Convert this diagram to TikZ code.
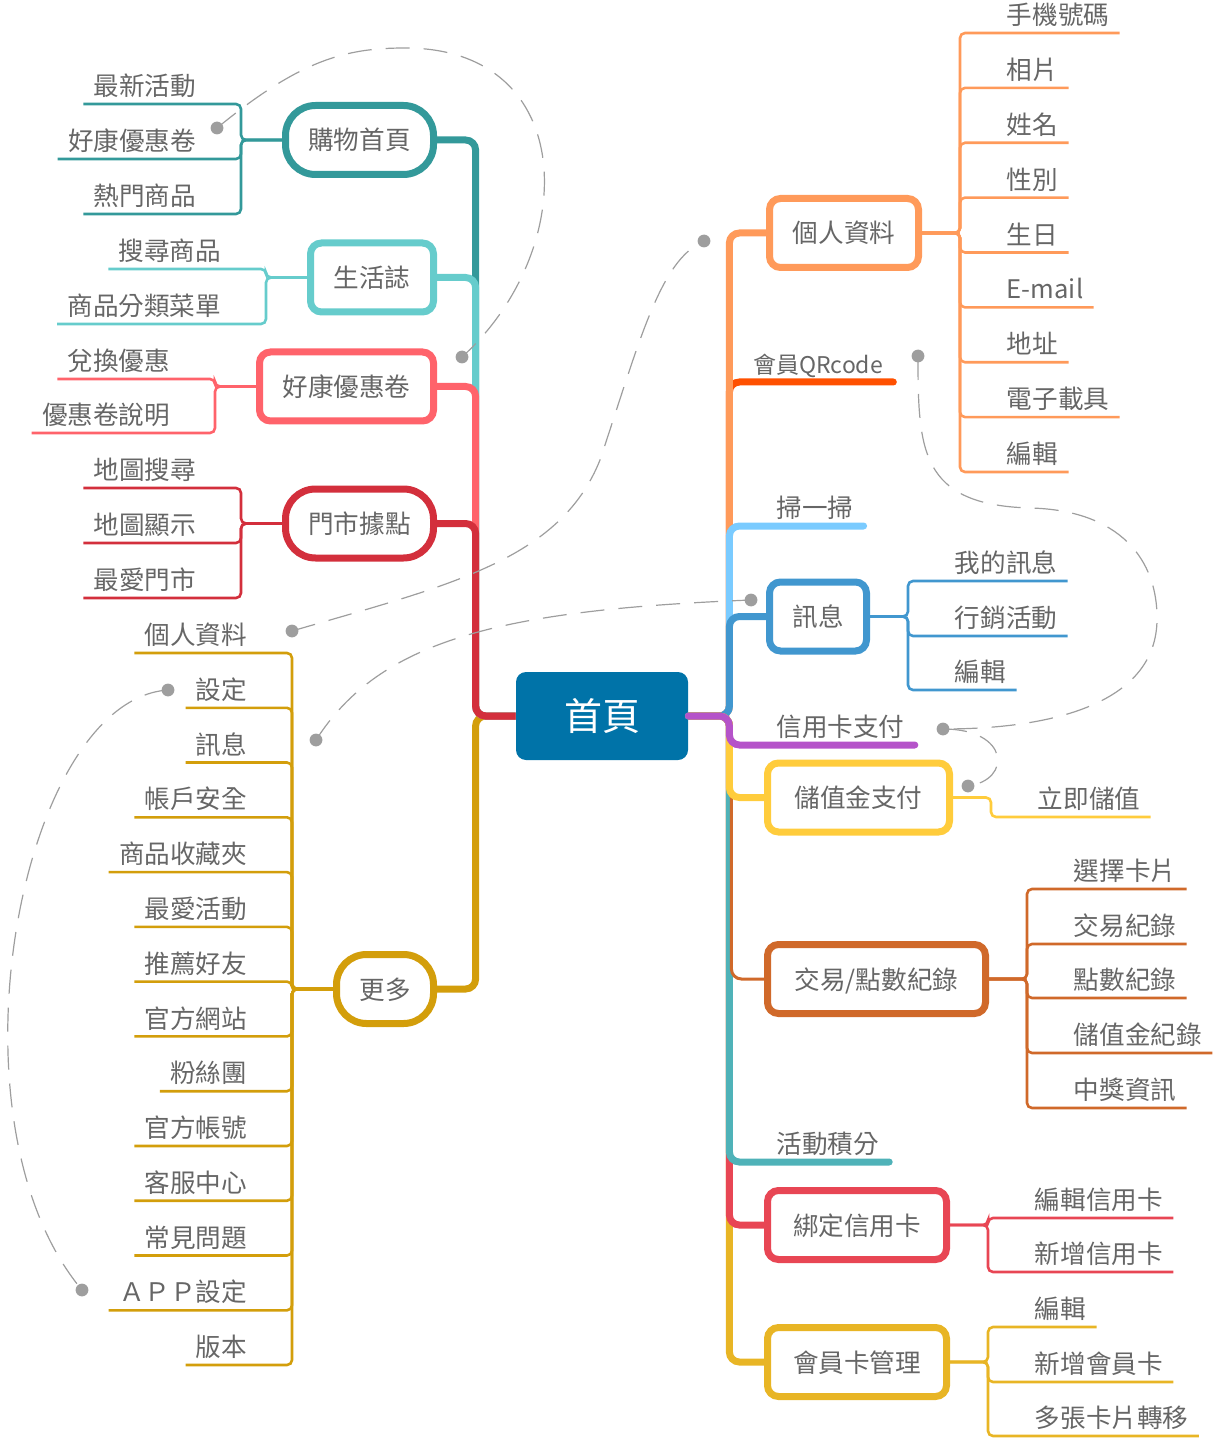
\documentclass[tikz,border=0pt]{standalone}
\usepackage{fontspec}
\usepackage{xcolor}
\setmainfont{Noto Sans CJK TC}
\definecolor{txt}{HTML}{666666}
\definecolor{relgray}{HTML}{9E9E9E}
\definecolor{homeblue}{HTML}{0073A8}
\definecolor{cGouwu}{HTML}{33999A}
\definecolor{cShz}{HTML}{66CCCC}
\definecolor{cHk}{HTML}{FF636B}
\definecolor{cMd}{HTML}{D32F3C}
\definecolor{cMore}{HTML}{D39E0B}
\definecolor{cPinfo}{HTML}{FF9A5A}
\definecolor{cQr}{HTML}{FF5000}
\definecolor{cScan}{HTML}{7ACBFF}
\definecolor{cMsg}{HTML}{4197CF}
\definecolor{cCredit}{HTML}{B553C9}
\definecolor{cStored}{HTML}{FFCC3C}
\definecolor{cTrans}{HTML}{D0692A}
\definecolor{cPoints}{HTML}{4FB2B8}
\definecolor{cBind}{HTML}{E84654}
\definecolor{cCard}{HTML}{E8B525}
\newcommand\leaffont{\fontsize{12.8pt}{15pt}\selectfont}
\tikzset{
  topic/.style={draw=#1, line width=3.5pt, fill=white, rounded corners=5.5pt, text=txt, font=\leaffont,
    minimum height=34.5pt, inner sep=0pt, text height=11.5pt, text depth=1.5pt},
  pill/.style={topic=#1, rounded corners=15pt},
  leaf/.style={text=txt, font=\leaffont, inner xsep=5pt, inner ysep=2.5pt, text height=11.5pt, text depth=1.5pt},
  leafL/.style={leaf, anchor=south east},
  leafR/.style={leaf, anchor=south west},
  branch/.style={draw=#1, line width=3.5pt, rounded corners=5pt},
  bar/.style={draw=#1, line width=3.5pt, rounded corners=5pt, line cap=round},
  twig/.style={draw=#1, line width=1.3pt, rounded corners=2.5pt},
  rel/.style={draw=relgray, line width=0.6pt, dash pattern=on 12pt off 7pt},
  reldot/.style={fill=relgray}
}
\begin{document}
\begin{tikzpicture}[x=0.5pt,y=-0.5pt]
  \useasboundingbox (0,0) rectangle (1212,1438);

  %%% CENTRE %%%
  \node[fill=homeblue, text=white, font=\fontsize{19pt}{22pt}\selectfont, rounded corners=5pt,
    minimum width=86pt, minimum height=44pt, inner sep=0pt] (home) at (602,716) {首頁};

  %%% LEFT TOPICS %%%
  \node[pill=cGouwu, minimum width=74pt] (gouwu) at (359.5,140) {購物首頁};
  \node[topic=cShz, minimum width=61.5pt] (shz) at (372,277.5) {生活誌};
  \node[topic=cHk, minimum width=87pt] (hk) at (346.5,386.5) {好康優惠卷};
  \node[pill=cMd, minimum width=74pt] (md) at (359.5,523.5) {門市據點};
  \node[pill=cMore, minimum width=48.5pt] (more) at (385,989) {更多};

  %%% RIGHT TOPICS %%%
  \node[topic=cPinfo, minimum width=74.5pt] (pinfo) at (844,233) {個人資料};
  \node[leafR, font=\fontsize{11.5pt}{14pt}\selectfont] (qr) at (743,382) {會員QRcode};
  \node[leafR] (scan) at (766,526) {掃一掃};
  \node[topic=cMsg, minimum width=48.5pt] (msg) at (818,616.5) {訊息};
  \node[leafR] (credit) at (766,745) {信用卡支付};
  \node[topic=cStored, minimum width=91pt] (stored) at (858.5,797.5) {儲值金支付};
  \node[topic=cTrans, minimum width=109pt] (trans) at (876.5,979) {交易/點數紀錄};
  \node[leafR] (points) at (766,1162) {活動積分};
  \node[topic=cBind, minimum width=89.5pt] (bind) at (857,1225) {綁定信用卡};
  \node[topic=cCard, minimum width=89.5pt] (card) at (857,1362) {會員卡管理};

  %%% BRANCHES LEFT %%%
  \draw[branch=cMore] (home.west) -- ++(-40,0) |- (more.east);
  \draw[branch=cGouwu] (home.west) -- ++(-40,0) |- (gouwu.east);
  \draw[branch=cShz] (home.west) -- ++(-40,0) |- (shz.east);
  \draw[branch=cHk] (home.west) -- ++(-40,0) |- (hk.east);
  \draw[branch=cMd] (home.west) -- ++(-40,0) |- (md.east);

  %%% BRANCHES RIGHT %%%
  \draw[bar=cQr] (home.east) -- ++(41,0) |- (qr.south east);
  \draw[branch=cPinfo] (home.east) -- ++(41,0) |- (pinfo.west);
  \draw[bar=cScan] (home.east) -- ++(41,0) |- (scan.south east);
  \draw[branch=cMsg] (home.east) -- ++(41,0) |- (msg.west);
  \draw[branch=cCard] (home.east) -- ++(41,0) |- (card.west);
  \draw[branch=cBind] (home.east) -- ++(41,0) |- (bind.west);
  \draw[bar=cPoints] (home.east) -- ++(41,0) |- (points.south east);
  \draw[draw=cTrans, line width=1.5pt, rounded corners=5pt] (home.east) -- ++(43,0) |- (trans.west);
  \draw[branch=cStored] (home.east) -- ++(41,0) |- (stored.west);
  \draw[bar=cCredit] (home.east) -- ++(41,0) |- (credit.south east);

  %%% LEAVES: 購物首頁 %%%
  \node[leafL] (g1) at (206.5,104) {最新活動};
  \node[leafL] (g2) at (206.5,159) {好康優惠卷};
  \node[leafL] (g3) at (206.5,214) {熱門商品};
  \draw[twig=cGouwu] (gouwu.west) -- ++(-41,0) |- (g1.south west);
  \draw[twig=cGouwu] (gouwu.west) -- ++(-41,0) |- (g2.south west);
  \draw[twig=cGouwu] (gouwu.west) -- ++(-41,0) |- (g3.south west);

  %%% LEAVES: 生活誌 %%%
  \node[leafL] (s1) at (231.5,269) {搜尋商品};
  \node[leafL] (s2) at (231.5,324) {商品分類菜單};
  \draw[twig=cShz] (shz.west) -- ++(-41,0) |- (s1.south west);
  \draw[twig=cShz] (shz.west) -- ++(-41,0) |- (s2.south west);

  %%% LEAVES: 好康優惠卷 %%%
  \node[leafL] (h1) at (180.5,379) {兌換優惠};
  \node[leafL] (h2) at (180.5,433) {優惠卷說明};
  \draw[twig=cHk] (hk.west) -- ++(-41,0) |- (h1.south west);
  \draw[twig=cHk] (hk.west) -- ++(-41,0) |- (h2.south west);

  %%% LEAVES: 門市據點 %%%
  \node[leafL] (m1) at (206.5,488) {地圖搜尋};
  \node[leafL] (m2) at (206.5,543) {地圖顯示};
  \node[leafL] (m3) at (206.5,598) {最愛門市};
  \draw[twig=cMd] (md.west) -- ++(-41,0) |- (m1.south west);
  \draw[twig=cMd] (md.west) -- ++(-41,0) |- (m2.south west);
  \draw[twig=cMd] (md.west) -- ++(-41,0) |- (m3.south west);

  %%% LEAVES: 更多 %%%
  \node[leafL] (o1) at (257.5,653) {個人資料};
  \node[leafL] (o2) at (257.5,707.8) {設定};
  \node[leafL] (o3) at (257.5,762.5) {訊息};
  \node[leafL] (o4) at (257.5,817.3) {帳戶安全};
  \node[leafL] (o5) at (257.5,872.1) {商品收藏夾};
  \node[leafL] (o6) at (257.5,926.9) {最愛活動};
  \node[leafL] (o7) at (257.5,981.6) {推薦好友};
  \node[leafL] (o8) at (257.5,1036.4) {官方網站};
  \node[leafL] (o9) at (257.5,1091.2) {粉絲團};
  \node[leafL] (o10) at (257.5,1146) {官方帳號};
  \node[leafL] (o11) at (257.5,1200.7) {客服中心};
  \node[leafL] (o12) at (257.5,1255.5) {常見問題};
  \node[leafL] (o13) at (257.5,1310.3) {ＡＰＰ設定};
  \node[leafL] (o14) at (257.5,1365) {版本};
  \draw[twig=cMore] (more.west) -- ++(-41,0) |- (o1.south west);
  \draw[twig=cMore] (more.west) -- ++(-41,0) |- (o2.south west);
  \draw[twig=cMore] (more.west) -- ++(-41,0) |- (o3.south west);
  \draw[twig=cMore] (more.west) -- ++(-41,0) |- (o4.south west);
  \draw[twig=cMore] (more.west) -- ++(-41,0) |- (o5.south west);
  \draw[twig=cMore] (more.west) -- ++(-41,0) |- (o6.south west);
  \draw[twig=cMore] (more.west) -- ++(-41,0) |- (o7.south west);
  \draw[twig=cMore] (more.west) -- ++(-41,0) |- (o8.south west);
  \draw[twig=cMore] (more.west) -- ++(-41,0) |- (o9.south west);
  \draw[twig=cMore] (more.west) -- ++(-41,0) |- (o10.south west);
  \draw[twig=cMore] (more.west) -- ++(-41,0) |- (o11.south west);
  \draw[twig=cMore] (more.west) -- ++(-41,0) |- (o12.south west);
  \draw[twig=cMore] (more.west) -- ++(-41,0) |- (o13.south west);
  \draw[twig=cMore] (more.west) -- ++(-41,0) |- (o14.south west);

  %%% LEAVES: 個人資料 %%%
  \node[leafR] (p1) at (996.5,33) {手機號碼};
  \node[leafR] (p2) at (996.5,87.9) {相片};
  \node[leafR] (p3) at (996.5,142.8) {姓名};
  \node[leafR] (p4) at (996.5,197.6) {性別};
  \node[leafR] (p5) at (996.5,252.5) {生日};
  \node[leafR] (p6) at (996.5,307.4) {E-mail};
  \node[leafR] (p7) at (996.5,362.3) {地址};
  \node[leafR] (p8) at (996.5,417.1) {電子載具};
  \node[leafR] (p9) at (996.5,472) {編輯};
  \draw[twig=cPinfo] (pinfo.east) -- ++(38,0) |- (p1.south east);
  \draw[twig=cPinfo] (pinfo.east) -- ++(38,0) |- (p2.south east);
  \draw[twig=cPinfo] (pinfo.east) -- ++(38,0) |- (p3.south east);
  \draw[twig=cPinfo] (pinfo.east) -- ++(38,0) |- (p4.south east);
  \draw[twig=cPinfo] (pinfo.east) -- ++(38,0) |- (p5.south east);
  \draw[twig=cPinfo] (pinfo.east) -- ++(38,0) |- (p6.south east);
  \draw[twig=cPinfo] (pinfo.east) -- ++(38,0) |- (p7.south east);
  \draw[twig=cPinfo] (pinfo.east) -- ++(38,0) |- (p8.south east);
  \draw[twig=cPinfo] (pinfo.east) -- ++(38,0) |- (p9.south east);

  %%% LEAVES: 訊息 %%%
  \node[leafR] (n1) at (944.5,581) {我的訊息};
  \node[leafR] (n2) at (944.5,636) {行銷活動};
  \node[leafR] (n3) at (944.5,690) {編輯};
  \draw[twig=cMsg] (msg.east) -- ++(38,0) |- (n1.south east);
  \draw[twig=cMsg] (msg.east) -- ++(38,0) |- (n2.south east);
  \draw[twig=cMsg] (msg.east) -- ++(38,0) |- (n3.south east);

  %%% LEAVES: 儲值金支付 %%%
  \node[leafR] (v1) at (1027.5,817) {立即儲值};
  \draw[twig=cStored] (stored.east) -- ++(38,0) |- (v1.south east);

  %%% LEAVES: 交易/點數紀錄 %%%
  \node[leafR] (t1) at (1063.5,889) {選擇卡片};
  \node[leafR] (t2) at (1063.5,944) {交易紀錄};
  \node[leafR] (t3) at (1063.5,998) {點數紀錄};
  \node[leafR] (t4) at (1063.5,1053) {儲值金紀錄};
  \node[leafR] (t5) at (1063.5,1108) {中獎資訊};
  \draw[twig=cTrans] (trans.east) -- ++(38,0) |- (t1.south east);
  \draw[twig=cTrans] (trans.east) -- ++(38,0) |- (t2.south east);
  \draw[twig=cTrans] (trans.east) -- ++(38,0) |- (t3.south east);
  \draw[twig=cTrans] (trans.east) -- ++(38,0) |- (t4.south east);
  \draw[twig=cTrans] (trans.east) -- ++(38,0) |- (t5.south east);

  %%% LEAVES: 綁定信用卡 %%%
  \node[leafR] (b1) at (1024.5,1218) {編輯信用卡};
  \node[leafR] (b2) at (1024.5,1272) {新增信用卡};
  \draw[twig=cBind] (bind.east) -- ++(38,0) |- (b1.south east);
  \draw[twig=cBind] (bind.east) -- ++(38,0) |- (b2.south east);

  %%% LEAVES: 會員卡管理 %%%
  \node[leafR] (c1) at (1024.5,1327) {編輯};
  \node[leafR] (c2) at (1024.5,1382) {新增會員卡};
  \node[leafR] (c3) at (1024.5,1436) {多張卡片轉移};
  \draw[twig=cCard] (card.east) -- ++(38,0) |- (c1.south east);
  \draw[twig=cCard] (card.east) -- ++(38,0) |- (c2.south east);
  \draw[twig=cCard] (card.east) -- ++(38,0) |- (c3.south east);

  %%% RELATIONSHIPS %%%
  \coordinate (ra1) at (217,128);   % 好康優惠卷 leaf
  \coordinate (ra2) at (462,357);   % 好康優惠卷 topic
  \coordinate (rb1) at (292,631);   % 個人資料 leaf
  \coordinate (rb2) at (704,241);   % 個人資料 topic
  \coordinate (rc1) at (316,740);   % 訊息 leaf
  \coordinate (rc2) at (751,600);   % 訊息 topic
  \coordinate (rd1) at (168,690);   % 設定
  \coordinate (rd2) at (82,1290);   % APP設定
  \coordinate (re1) at (918,356);   % 會員QRcode
  \coordinate (re2) at (943,729);   % 信用卡支付
  \coordinate (rf2) at (968,786);   % 儲值金支付
  \draw[rel] (ra1) .. controls (300,60) and (345,48) .. (405,48) .. controls (580,48) and (580,250) .. (ra2);
  \draw[rel] (rb1) .. controls (450,585) and (560,560) .. (600,460) .. controls (640,340) and (660,260) .. (rb2);
  \draw[rel] (rc1) .. controls (380,640) and (500,610) .. (rc2);
  \draw[rel] (rd1) .. controls (20,700) and (-60,1120) .. (rd2);
  \draw[rel] (re1) .. controls (918,450) and (920,505) .. (1030,508) .. controls (1120,510) and (1158,560) .. (1157,620) .. controls (1156,700) and (1060,729) .. (re2);
  \draw[rel] (re2) .. controls (1010,729) and (1012,780) .. (rf2);
  \foreach \d in {ra1,ra2,rb1,rb2,rc1,rc2,rd1,rd2,re1,re2,rf2}
    \fill[reldot] (\d) circle (3.2pt);
\end{tikzpicture}
\end{document}
